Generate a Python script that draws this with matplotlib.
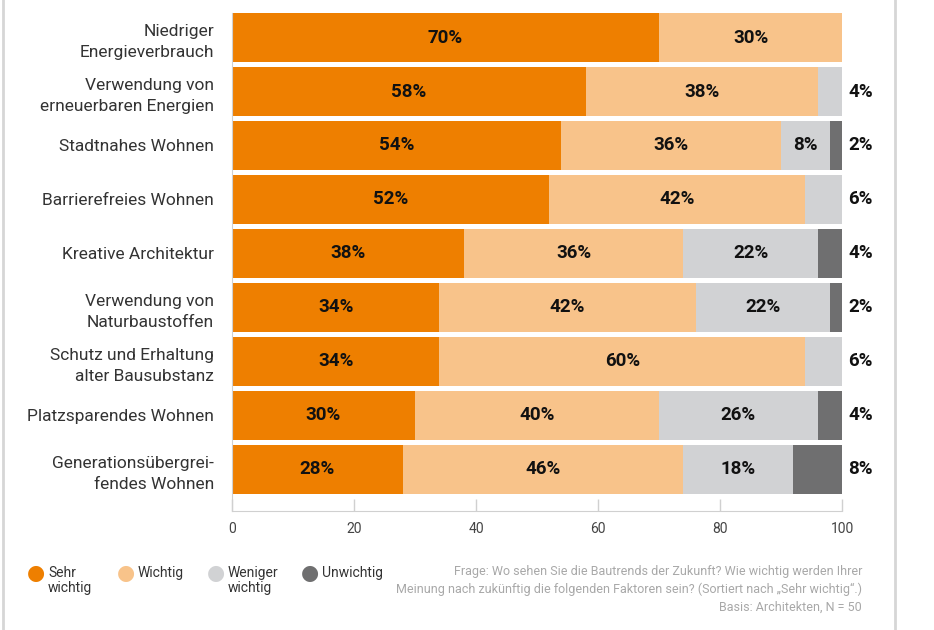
import matplotlib
matplotlib.use("Agg")
import matplotlib.pyplot as plt
from matplotlib.lines import Line2D

categories = [
    "Niedriger\nEnergieverbrauch",
    "Verwendung von\nerneuerbaren Energien",
    "Stadtnahes Wohnen",
    "Barrierefreies Wohnen",
    "Kreative Architektur",
    "Verwendung von\nNaturbaustoffen",
    "Schutz und Erhaltung\nalter Bausubstanz",
    "Platzsparendes Wohnen",
    "Generationsübergrei-\nfendes Wohnen",
]
sehr_wichtig = [70, 58, 54, 52, 38, 34, 34, 30, 28]
wichtig = [30, 38, 36, 42, 36, 42, 60, 40, 46]
weniger_wichtig = [0, 4, 8, 6, 22, 22, 6, 26, 18]
unwichtig = [0, 0, 2, 0, 4, 2, 0, 4, 8]

series_names = ["Sehr\nwichtig", "Wichtig", "Weniger\nwichtig", "Unwichtig"]
colors = ["#EE7F00", "#F8C38A", "#D1D2D4", "#6F6F70"]
x_ticks = [0, 20, 40, 60, 80, 100]

plt.rcParams["font.family"] = ["Roboto", "DejaVu Sans"]

fig = plt.figure(figsize=(9.34, 6.30), dpi=100)
ax = fig.add_axes([232 / 934, 1 - 511 / 630, 610 / 934, 498 / 630])

series = [sehr_wichtig, wichtig, weniger_wichtig, unwichtig]
ypos = list(range(len(categories)))
left = [0] * len(categories)
for vals, col in zip(series, colors):
    ax.barh(ypos, vals, left=left, height=0.905, color=col, linewidth=0)
    left = [l + v for l, v in zip(left, vals)]

# value labels: inside segments, last small segment outside on the right
for i in ypos:
    row = [s[i] for s in series]
    last = max(k for k, v in enumerate(row) if v > 0)
    start = 0
    for k, v in enumerate(row):
        if v > 0:
            if k == last and k >= 2:
                ax.text(101, i, f"{v}%", ha="left", va="center",
                        fontsize=13.5, fontweight="bold", color="#111111",
                        clip_on=False)
            else:
                ax.text(start + v / 2, i, f"{v}%", ha="center", va="center",
                        fontsize=13.5, fontweight="bold", color="#111111")
        start += v

ax.set_xlim(0, 100)
ax.set_ylim(8.77, -0.454)
ax.set_yticks(ypos)
ax.set_yticklabels(categories, fontsize=12.5, color="#333333",
                   linespacing=1.5)
ax.tick_params(axis="y", length=0, pad=13)
ax.set_xticks(x_ticks)
ax.set_xticklabels([str(t) for t in x_ticks], fontsize=10, color="#444444")
ax.tick_params(axis="x", direction="in", length=9, color="#D0D0D0",
               width=1, pad=8)
for s in ["top", "right"]:
    ax.spines[s].set_visible(False)
ax.spines["bottom"].set_color("#D0D0D0")
ax.spines["left"].set_color("#D0D0D0")

# frame lines at the page edges
fig.add_artist(Line2D([3 / 934, 3 / 934], [0, 1], color="#D6D6D6", lw=2))
fig.add_artist(Line2D([895 / 934, 895 / 934], [0, 1], color="#D6D6D6", lw=2))

# legend
leg_x = [36, 126, 216, 310]
for x, name, col in zip(leg_x, series_names, colors):
    fig.text(x / 934, 1 - 573 / 630, "\u25CF", color=col, fontsize=15,
             ha="center", va="center", family="DejaVu Sans")
    fig.text((x + 12) / 934, 1 - 566 / 630, name, color="#333333",
             fontsize=10, ha="left", va="top", linespacing=1.05)

note = ("Frage: Wo sehen Sie die Bautrends der Zukunft? Wie wichtig werden Ihrer\n"
        "Meinung nach zukünftig die folgenden Faktoren sein? (Sortiert nach \u201eSehr wichtig\u201c.)\n"
        "Basis: Architekten, N = 50")
fig.text(862 / 934, 1 - 565 / 630, note, color="#A8A8A8", fontsize=9,
         ha="right", va="top", linespacing=1.45, multialignment="right")

fig.savefig("out.png", dpi=100)
